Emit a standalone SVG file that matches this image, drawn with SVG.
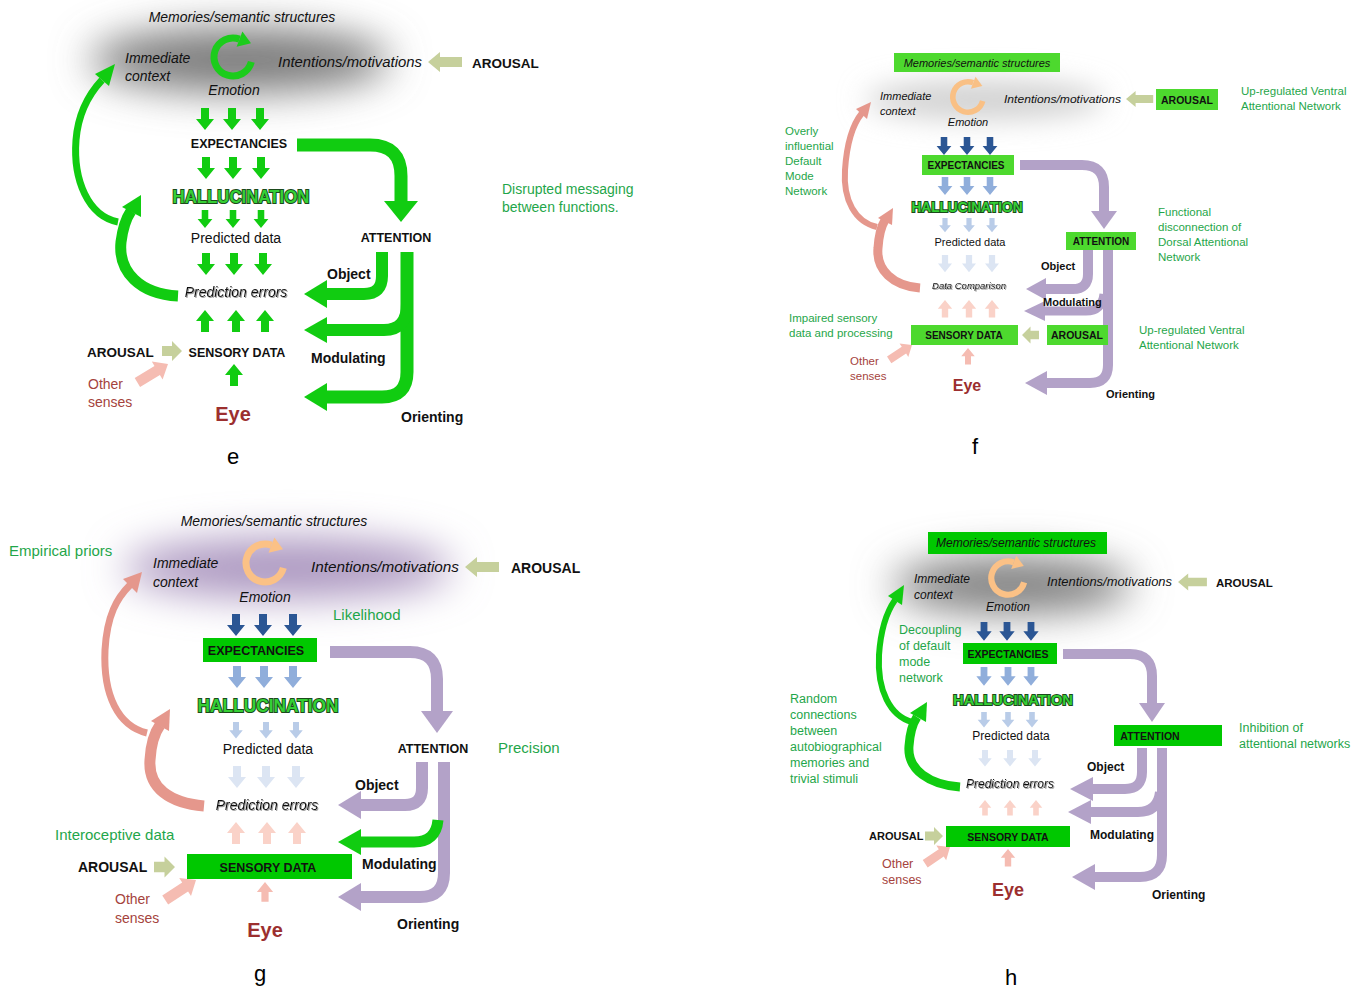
<svg xmlns="http://www.w3.org/2000/svg" width="1365" height="990" viewBox="0 0 1365 990">
<style>
text{font-family:"Liberation Sans",Arial,sans-serif;fill:#111}
.i{font-style:italic}
.b{font-weight:bold}
.gt{fill:#1fa64a}
.br{fill:#a5433d}
.eye{fill:#9c2f2f;font-weight:bold}
.hal{fill:#35d035;stroke:#1b4a1b;stroke-width:2;paint-order:stroke;font-weight:bold}
.lbl{font-size:22px;fill:#000}
.sh{fill:none;stroke-linecap:butt}
.ge{stroke:#11cc11}
.gef{fill:#11cc11}
.pu{stroke:#b3a2c8}
.puf{fill:#b3a2c8}
.sa{stroke:#e5978c}
.saf{fill:#e5978c}
.kh{fill:#c6d09c}
.pk{fill:#f5bcb2}
.db{fill:#2b5694}
.lb{fill:#90aedb}
.lb2{fill:#b9cce8}
.lb3{fill:#dce5f3}
.pk2{fill:#fad2c8}
.boxf{fill:#4dd92e}
.boxg{fill:#00c800}
</style>
<defs>
<path id="dn" d="M-4,0H4V11H9L0,22L-9,11H-4Z"/>
<path id="up" d="M-4,22H4V11H9L0,0L-9,11H-4Z"/>
<path id="ha" d="M-34,-5H-12V-10L0,0L-12,10V5H-34Z"/>
<path id="hs" d="M-20,-5H-10V-10L0,0L-10,10V5H-20Z"/>
<g id="circ">
<path d="M18.35,4.92A19,19 0 1 1 6.5,-17.85" fill="none" stroke="currentColor" stroke-width="7"/>
<polygon points="18,-13.7 9.4,-25.4 3.6,-10.3" fill="currentColor"/>
</g>
<filter id="blur" x="-60%" y="-100%" width="220%" height="300%"><feGaussianBlur stdDeviation="20"/></filter>
<filter id="blur2" x="-60%" y="-100%" width="220%" height="300%"><feGaussianBlur stdDeviation="14"/></filter>
<filter id="shd" x="-10%" y="-30%" width="120%" height="160%"><feDropShadow dx="1" dy="1" stdDeviation="0.6" flood-color="#888" flood-opacity="0.8"/></filter>
</defs>
<rect width="1365" height="990" fill="#fff"/>

<!-- ================= PANEL E ================= -->
<g id="panel-e">
<ellipse cx="240" cy="60" rx="150" ry="32" fill="#7a7a7a" filter="url(#blur)"/>
<g id="connectors-e">
<g class="gef">
<use href="#dn" transform="translate(205,108)"/><use href="#dn" transform="translate(232,108)"/><use href="#dn" transform="translate(260,108)"/>
<use href="#dn" transform="translate(206,157)"/><use href="#dn" transform="translate(233,157)"/><use href="#dn" transform="translate(261,157)"/>
<use href="#dn" transform="translate(205,210) scale(0.82)"/><use href="#dn" transform="translate(233,210) scale(0.82)"/><use href="#dn" transform="translate(261,210) scale(0.82)"/>
<use href="#dn" transform="translate(206,253)"/><use href="#dn" transform="translate(234,253)"/><use href="#dn" transform="translate(263,253)"/>
<use href="#up" transform="translate(205,310)"/><use href="#up" transform="translate(236,310)"/><use href="#up" transform="translate(265,310)"/>
<use href="#up" transform="translate(234,364)"/>
</g>
<use href="#ha" class="kh" transform="translate(428,62) rotate(180)"/>
<use href="#hs" class="kh" transform="translate(182,351)"/>
<use href="#ha" class="pk" transform="translate(168,364) rotate(-31) scale(1.05)"/>
<path class="sh ge" stroke-width="13" d="M297,145H370Q401,145 401,176V202"/>
<polygon class="gef" points="384,201 418,201 401,222"/>
<path class="sh ge" stroke-width="12" d="M382,252V276Q382,294 364,294H325"/>
<polygon class="gef" points="327,280 327,308 304,294"/>
<path class="sh ge" stroke-width="13" d="M407,252V372Q407,397 382,397H325"/>
<polygon class="gef" points="327,383 327,411 304,397"/>
<path class="sh ge" stroke-width="12" d="M407,304Q407,330 384,330H325"/>
<polygon class="gef" points="327,317 327,343 304,330"/>
<path class="sh ge" stroke-width="7" d="M118,222C88,216 73,180 76,140C78,115 88,95 102,80"/>
<polygon class="gef" points="115,64 109,86 95,74"/>
<path class="sh ge" stroke-width="11" d="M178,296C140,294 118,272 121,242C123,226 127,217 131,211"/>
<polygon class="gef" points="141,195 141,217 122,207"/>
</g>
<g id="e-memories"><text class="i" x="242" y="22" font-size="14" text-anchor="middle">Memories/semantic structures</text></g>
<g id="e-immediate"><text class="i" x="125" y="63" font-size="14">Immediate</text><text class="i" x="125" y="81" font-size="14">context</text></g>
<g id="e-emotion"><use href="#circ" color="#1ccc1c" transform="translate(233,57)"/><text class="i" x="234" y="95" font-size="14" text-anchor="middle">Emotion</text></g>
<g id="e-intentions"><text class="i" x="278" y="67" font-size="14" textLength="144" lengthAdjust="spacingAndGlyphs">Intentions/motivations</text></g>
<g id="e-arousal-top"><text class="b" x="472" y="68" font-size="13.5">AROUSAL</text></g>
<g id="e-expectancies"><text class="b" x="239" y="148" font-size="12.5" text-anchor="middle">EXPECTANCIES</text></g>
<g id="e-hallucination"><text class="hal" x="241" y="203" font-size="18" text-anchor="middle" textLength="137" lengthAdjust="spacingAndGlyphs">HALLUCINATION</text></g>
<g id="e-predicted"><text x="236" y="243" font-size="14" text-anchor="middle">Predicted data</text></g>
<g id="e-errors"><text class="i" x="236" y="297" font-size="14" text-anchor="middle" filter="url(#shd)">Prediction errors</text></g>
<g id="e-arousal"><text class="b" x="87" y="357" font-size="13.5">AROUSAL</text></g>
<g id="e-sensory"><text class="b" x="237" y="357" font-size="12.5" text-anchor="middle">SENSORY DATA</text></g>
<g id="e-other"><text class="br" x="88" y="389" font-size="14">Other</text><text class="br" x="88" y="407" font-size="14">senses</text></g>
<g id="e-eye"><text class="eye" x="233" y="421" font-size="20" text-anchor="middle">Eye</text></g>
<g id="e-attention"><text class="b" x="396" y="242" font-size="12.5" text-anchor="middle">ATTENTION</text></g>
<g id="e-object"><text class="b" x="327" y="279" font-size="14">Object</text></g>
<g id="e-modulating"><text class="b" x="311" y="363" font-size="14">Modulating</text></g>
<g id="e-orienting"><text class="b" x="401" y="422" font-size="14">Orienting</text></g>
<g id="e-note"><text class="gt" x="502" y="194" font-size="14">Disrupted messaging</text><text class="gt" x="502" y="212" font-size="14">between functions.</text></g>
<g id="e-label"><text class="lbl" x="233" y="464" text-anchor="middle">e</text></g>
</g>

<!-- ================= PANEL F ================= -->
<g id="panel-f">
<ellipse cx="985" cy="100" rx="120" ry="20" fill="#d2d2d2" filter="url(#blur2)"/>
<g id="connectors-f">
<g class="db"><use href="#dn" transform="translate(944,137) scale(0.82)"/><use href="#dn" transform="translate(967,137) scale(0.82)"/><use href="#dn" transform="translate(990,137) scale(0.82)"/></g>
<g class="lb"><use href="#dn" transform="translate(945,177) scale(0.82)"/><use href="#dn" transform="translate(967,177) scale(0.82)"/><use href="#dn" transform="translate(990,177) scale(0.82)"/></g>
<g class="lb2"><use href="#dn" transform="translate(945,218) scale(0.65)"/><use href="#dn" transform="translate(969,218) scale(0.65)"/><use href="#dn" transform="translate(992,218) scale(0.65)"/></g>
<g class="lb3"><use href="#dn" transform="translate(945,255) scale(0.78)"/><use href="#dn" transform="translate(969,255) scale(0.78)"/><use href="#dn" transform="translate(992,255) scale(0.78)"/></g>
<g class="pk2"><use href="#up" transform="translate(945,300) scale(0.8)"/><use href="#up" transform="translate(969,300) scale(0.8)"/><use href="#up" transform="translate(992,300) scale(0.8)"/></g>
<use href="#up" class="pk" transform="translate(968,348) scale(0.75)"/>
<use href="#ha" class="kh" transform="translate(1126,99) rotate(180) scale(0.8)"/>
<use href="#hs" class="kh" transform="translate(1022,335) rotate(180) scale(0.85)"/>
<use href="#ha" class="pk" transform="translate(912,345) rotate(-33) scale(0.8)"/>
<path class="sh pu" stroke-width="10" d="M1020,165H1082Q1104,165 1104,187V212"/>
<polygon class="puf" points="1091,211 1117,211 1104,229"/>
<path class="sh pu" stroke-width="10" d="M1088,250V274Q1088,289 1073,289H1045"/>
<polygon class="puf" points="1046,278 1046,300 1026,289"/>
<path class="sh pu" stroke-width="10" d="M1108,250V365Q1108,383 1090,383H1046"/>
<polygon class="puf" points="1047,371 1047,395 1025,383"/>
<path class="sh pu" stroke-width="9" d="M1104,294Q1102,311 1086,311H1044"/>
<polygon class="puf" points="1045,301 1045,321 1024,311"/>
<path class="sh sa" stroke-width="6" d="M877,227C855,222 843,200 845,170C847,140 853,124 862,113"/>
<polygon class="saf" points="871,102 867,119 856,109"/>
<path class="sh sa" stroke-width="9" d="M920,288C893,286 876,270 878,248C879,233 882,225 885,220"/>
<polygon class="saf" points="893,208 892,225 878,218"/>
</g>
<g id="f-memories"><rect class="boxf" x="894" y="53" width="166" height="19"/><text class="i" x="977" y="66.5" font-size="11" text-anchor="middle">Memories/semantic structures</text></g>
<g id="f-immediate"><text class="i" x="880" y="100" font-size="11">Immediate</text><text class="i" x="880" y="115" font-size="11">context</text></g>
<g id="f-emotion"><use href="#circ" color="#f9c085" transform="translate(968,97) scale(0.8)"/><text class="i" x="968" y="126" font-size="11" text-anchor="middle">Emotion</text></g>
<g id="f-intentions"><text class="i" x="1004" y="103" font-size="11" textLength="117" lengthAdjust="spacingAndGlyphs">Intentions/motivations</text></g>
<g id="f-arousal-top"><rect class="boxf" x="1156" y="89" width="62" height="21"/><text class="b" x="1187" y="103.5" font-size="10.5" text-anchor="middle">AROUSAL</text></g>
<g id="f-upreg1"><text class="gt" x="1241" y="95" font-size="11.5">Up-regulated Ventral</text><text class="gt" x="1241" y="110" font-size="11.5">Attentional Network</text></g>
<g id="f-overly"><text class="gt" x="785" y="135" font-size="11.5">Overly</text><text class="gt" x="785" y="150" font-size="11.5">influential</text><text class="gt" x="785" y="165" font-size="11.5">Default</text><text class="gt" x="785" y="180" font-size="11.5">Mode</text><text class="gt" x="785" y="195" font-size="11.5">Network</text></g>
<g id="f-expectancies"><rect class="boxf" x="922" y="155" width="92" height="20"/><text class="b" x="966" y="169" font-size="10" text-anchor="middle">EXPECTANCIES</text></g>
<g id="f-hallucination"><text class="hal" x="967" y="212" font-size="14" text-anchor="middle" textLength="111" lengthAdjust="spacingAndGlyphs">HALLUCINATION</text></g>
<g id="f-predicted"><text x="970" y="246" font-size="11" text-anchor="middle">Predicted data</text></g>
<g id="f-comparison"><text class="i" x="969" y="288.5" font-size="9.5" text-anchor="middle" filter="url(#shd)">Data Comparison</text></g>
<g id="f-impaired"><text class="gt" x="789" y="322" font-size="11.5">Impaired sensory</text><text class="gt" x="789" y="337" font-size="11.5">data and processing</text></g>
<g id="f-sensory"><rect class="boxf" x="911" y="325" width="107" height="20"/><text class="b" x="964" y="339" font-size="10" text-anchor="middle">SENSORY DATA</text></g>
<g id="f-arousal"><rect class="boxf" x="1047" y="325" width="61" height="20"/><text class="b" x="1077" y="339" font-size="10.5" text-anchor="middle">AROUSAL</text></g>
<g id="f-other"><text class="br" x="850" y="365" font-size="11.5">Other</text><text class="br" x="850" y="380" font-size="11.5">senses</text></g>
<g id="f-eye"><text class="eye" x="967" y="391" font-size="16" text-anchor="middle">Eye</text></g>
<g id="f-attention"><rect class="boxf" x="1066" y="232" width="70" height="18"/><text class="b" x="1101" y="245" font-size="10" text-anchor="middle">ATTENTION</text></g>
<g id="f-functional"><text class="gt" x="1158" y="216" font-size="11.5">Functional</text><text class="gt" x="1158" y="231" font-size="11.5">disconnection of</text><text class="gt" x="1158" y="246" font-size="11.5">Dorsal Attentional</text><text class="gt" x="1158" y="261" font-size="11.5">Network</text></g>
<g id="f-object"><text class="b" x="1041" y="270" font-size="11">Object</text></g>
<g id="f-modulating"><text class="b" x="1043" y="306" font-size="11">Modulating</text></g>
<g id="f-orienting"><text class="b" x="1106" y="398" font-size="11">Orienting</text></g>
<g id="f-upreg2"><text class="gt" x="1139" y="334" font-size="11.5">Up-regulated Ventral</text><text class="gt" x="1139" y="349" font-size="11.5">Attentional Network</text></g>
<g id="f-label"><text class="lbl" x="975" y="454" text-anchor="middle">f</text></g>
</g>

<!-- ================= PANEL G ================= -->
<g id="panel-g">
<ellipse cx="288" cy="568" rx="165" ry="30" fill="#ab96c0" filter="url(#blur)"/>
<g id="connectors-g">
<g class="db"><use href="#dn" transform="translate(236,614)"/><use href="#dn" transform="translate(263,614)"/><use href="#dn" transform="translate(293,614)"/></g>
<g class="lb"><use href="#dn" transform="translate(237,666)"/><use href="#dn" transform="translate(264,666)"/><use href="#dn" transform="translate(293,666)"/></g>
<g class="lb2"><use href="#dn" transform="translate(236,722) scale(0.75)"/><use href="#dn" transform="translate(266,722) scale(0.75)"/><use href="#dn" transform="translate(296,722) scale(0.75)"/></g>
<g class="lb3"><use href="#dn" transform="translate(237,766)"/><use href="#dn" transform="translate(266,766)"/><use href="#dn" transform="translate(296,766)"/></g>
<g class="pk2"><use href="#up" transform="translate(236,822)"/><use href="#up" transform="translate(267,822)"/><use href="#up" transform="translate(297,822)"/></g>
<use href="#up" class="pk" transform="translate(265,882) scale(0.9)"/>
<use href="#ha" class="kh" transform="translate(465,567) rotate(180)"/>
<use href="#hs" class="kh" transform="translate(175,867) scale(1.05)"/>
<use href="#ha" class="pk" transform="translate(196,880) rotate(-33) scale(1.08)"/>
<path class="sh pu" stroke-width="12" d="M330,652H410Q437,652 437,679V712"/>
<polygon class="puf" points="421,711 453,711 437,733"/>
<path class="sh pu" stroke-width="12" d="M422,762V788Q422,805 405,805H360"/>
<polygon class="puf" points="361,791 361,819 338,805"/>
<path class="sh pu" stroke-width="12" d="M444,762V873Q444,897 420,897H360"/>
<polygon class="puf" points="361,883 361,911 338,897"/>
<path class="sh ge" stroke-width="11" d="M438,820Q436,842 414,842H360"/>
<polygon class="gef" points="361,829 361,855 338,842"/>
<path class="sh sa" stroke-width="7" d="M147,733C118,726 103,695 105,650C107,615 117,598 130,585"/>
<polygon class="saf" points="142,572 137,593 123,579"/>
<path class="sh sa" stroke-width="11" d="M204,806C170,803 148,788 150,760C151,742 155,732 160,725"/>
<polygon class="saf" points="170,709 169,731 151,721"/>
</g>
<g id="g-memories"><text class="i" x="274" y="526" font-size="14" text-anchor="middle">Memories/semantic structures</text></g>
<g id="g-priors"><text class="gt" x="9" y="556" font-size="15">Empirical priors</text></g>
<g id="g-immediate"><text class="i" x="153" y="568" font-size="14">Immediate</text><text class="i" x="153" y="587" font-size="14">context</text></g>
<g id="g-emotion"><use href="#circ" color="#fbc186" transform="translate(265,563)"/><text class="i" x="265" y="602" font-size="14" text-anchor="middle">Emotion</text></g>
<g id="g-intentions"><text class="i" x="311" y="572" font-size="14" textLength="148" lengthAdjust="spacingAndGlyphs">Intentions/motivations</text></g>
<g id="g-arousal-top"><text class="b" x="511" y="573" font-size="14">AROUSAL</text></g>
<g id="g-likelihood"><text class="gt" x="333" y="620" font-size="15">Likelihood</text></g>
<g id="g-expectancies"><rect class="boxg" x="203" y="638" width="114" height="24"/><text class="b" x="256" y="655" font-size="12.5" text-anchor="middle">EXPECTANCIES</text></g>
<g id="g-hallucination"><text class="hal" x="268" y="712" font-size="18" text-anchor="middle" textLength="141" lengthAdjust="spacingAndGlyphs">HALLUCINATION</text></g>
<g id="g-predicted"><text x="268" y="754" font-size="14" text-anchor="middle">Predicted data</text></g>
<g id="g-attention"><text class="b" x="433" y="753" font-size="12.5" text-anchor="middle">ATTENTION</text></g>
<g id="g-precision"><text class="gt" x="498" y="753" font-size="15">Precision</text></g>
<g id="g-object"><text class="b" x="355" y="790" font-size="14">Object</text></g>
<g id="g-errors"><text class="i" x="267" y="810" font-size="14" text-anchor="middle" filter="url(#shd)">Prediction errors</text></g>
<g id="g-interoceptive"><text class="gt" x="55" y="840" font-size="15">Interoceptive data</text></g>
<g id="g-arousal"><text class="b" x="78" y="872" font-size="14">AROUSAL</text></g>
<g id="g-sensory"><rect class="boxg" x="187" y="854" width="165" height="25"/><text class="b" x="268" y="872" font-size="12.5" text-anchor="middle">SENSORY DATA</text></g>
<g id="g-modulating"><text class="b" x="362" y="869" font-size="14">Modulating</text></g>
<g id="g-other"><text class="br" x="115" y="904" font-size="14">Other</text><text class="br" x="115" y="923" font-size="14">senses</text></g>
<g id="g-orienting"><text class="b" x="397" y="929" font-size="14">Orienting</text></g>
<g id="g-eye"><text class="eye" x="265" y="937" font-size="20" text-anchor="middle">Eye</text></g>
<g id="g-label"><text class="lbl" x="260" y="981" text-anchor="middle">g</text></g>
</g>

<!-- ================= PANEL H ================= -->
<g id="panel-h">
<ellipse cx="1012" cy="585" rx="120" ry="28" fill="#7e7e7e" filter="url(#blur)"/>
<g id="connectors-h">
<g class="db"><use href="#dn" transform="translate(984,622) scale(0.85)"/><use href="#dn" transform="translate(1007,622) scale(0.85)"/><use href="#dn" transform="translate(1031,622) scale(0.85)"/></g>
<g class="lb"><use href="#dn" transform="translate(984,667) scale(0.85)"/><use href="#dn" transform="translate(1008,667) scale(0.85)"/><use href="#dn" transform="translate(1031,667) scale(0.85)"/></g>
<g class="lb2"><use href="#dn" transform="translate(984,712) scale(0.7)"/><use href="#dn" transform="translate(1008,712) scale(0.7)"/><use href="#dn" transform="translate(1032,712) scale(0.7)"/></g>
<g class="lb3"><use href="#dn" transform="translate(985,750) scale(0.75)"/><use href="#dn" transform="translate(1010,750) scale(0.75)"/><use href="#dn" transform="translate(1035,750) scale(0.75)"/></g>
<g class="pk2"><use href="#up" transform="translate(985,800) scale(0.7)"/><use href="#up" transform="translate(1010,800) scale(0.7)"/><use href="#up" transform="translate(1036,800) scale(0.7)"/></g>
<use href="#up" class="pk" transform="translate(1008,849) scale(0.8)"/>
<use href="#ha" class="kh" transform="translate(1178,582) rotate(180) scale(0.85)"/>
<use href="#hs" class="kh" transform="translate(943,836) scale(0.9)"/>
<use href="#ha" class="pk" transform="translate(950,847) rotate(-34) scale(0.88)"/>
<path class="sh pu" stroke-width="10" d="M1063,654H1130Q1152,654 1152,676V704"/>
<polygon class="puf" points="1139,703 1165,703 1152,722"/>
<path class="sh pu" stroke-width="10" d="M1142,748V772Q1142,789 1125,789H1092"/>
<polygon class="puf" points="1093,777 1093,801 1070,789"/>
<path class="sh pu" stroke-width="10" d="M1162,748V855Q1162,877 1140,877H1094"/>
<polygon class="puf" points="1095,864 1095,890 1072,877"/>
<path class="sh pu" stroke-width="10" d="M1160,792Q1158,812 1138,812H1090"/>
<polygon class="puf" points="1091,800 1091,824 1068,812"/>
<path class="sh ge" stroke-width="6" d="M912,722C890,716 877,690 879,655C881,625 888,610 895,600"/>
<polygon class="gef" points="904,585 902,605 888,596"/>
<path class="sh ge" stroke-width="9" d="M960,787C930,785 907,770 909,746C910,732 913,723 917,717"/>
<polygon class="gef" points="927,702 926,722 910,713"/>
</g>
<g id="h-memories"><rect class="boxg" x="928" y="532" width="179" height="22"/><text class="i" x="1016" y="547" font-size="12" text-anchor="middle">Memories/semantic structures</text></g>
<g id="h-immediate"><text class="i" x="914" y="583" font-size="12">Immediate</text><text class="i" x="914" y="599" font-size="12">context</text></g>
<g id="h-emotion"><use href="#circ" color="#fbc186" transform="translate(1008,578) scale(0.88)"/><text class="i" x="1008" y="611" font-size="12" text-anchor="middle">Emotion</text></g>
<g id="h-intentions"><text class="i" x="1047" y="586" font-size="12" textLength="125" lengthAdjust="spacingAndGlyphs">Intentions/motivations</text></g>
<g id="h-arousal-top"><text class="b" x="1216" y="587" font-size="11.5">AROUSAL</text></g>
<g id="h-decoupling"><text class="gt" x="899" y="634" font-size="12.5">Decoupling</text><text class="gt" x="899" y="650" font-size="12.5">of default</text><text class="gt" x="899" y="666" font-size="12.5">mode</text><text class="gt" x="899" y="682" font-size="12.5">network</text></g>
<g id="h-expectancies"><rect class="boxg" x="963" y="643" width="94" height="21"/><text class="b" x="1008" y="657.5" font-size="10.5" text-anchor="middle">EXPECTANCIES</text></g>
<g id="h-hallucination"><text class="hal" x="1013" y="705" font-size="15" text-anchor="middle" textLength="120" lengthAdjust="spacingAndGlyphs">HALLUCINATION</text></g>
<g id="h-random"><text class="gt" x="790" y="703" font-size="12.5">Random</text><text class="gt" x="790" y="719" font-size="12.5">connections</text><text class="gt" x="790" y="735" font-size="12.5">between</text><text class="gt" x="790" y="751" font-size="12.5">autobiographical</text><text class="gt" x="790" y="767" font-size="12.5">memories and</text><text class="gt" x="790" y="783" font-size="12.5">trivial stimuli</text></g>
<g id="h-predicted"><text x="1011" y="740" font-size="12" text-anchor="middle">Predicted data</text></g>
<g id="h-attention"><rect class="boxg" x="1114" y="725" width="108" height="21"/><text class="b" x="1150" y="739.5" font-size="10.5" text-anchor="middle">ATTENTION</text></g>
<g id="h-inhibition"><text class="gt" x="1239" y="732" font-size="12.5">Inhibition of</text><text class="gt" x="1239" y="748" font-size="12.5">attentional networks</text></g>
<g id="h-object"><text class="b" x="1087" y="771" font-size="12">Object</text></g>
<g id="h-errors"><text class="i" x="1010" y="788" font-size="12" text-anchor="middle" filter="url(#shd)">Prediction errors</text></g>
<g id="h-arousal"><text class="b" x="869" y="840" font-size="11">AROUSAL</text></g>
<g id="h-sensory"><rect class="boxg" x="946" y="826" width="124" height="21"/><text class="b" x="1008" y="840.5" font-size="10.5" text-anchor="middle">SENSORY DATA</text></g>
<g id="h-modulating"><text class="b" x="1090" y="839" font-size="12">Modulating</text></g>
<g id="h-other"><text class="br" x="882" y="868" font-size="12.5">Other</text><text class="br" x="882" y="884" font-size="12.5">senses</text></g>
<g id="h-eye"><text class="eye" x="1008" y="896" font-size="18" text-anchor="middle">Eye</text></g>
<g id="h-orienting"><text class="b" x="1152" y="899" font-size="12">Orienting</text></g>
<g id="h-label"><text class="lbl" x="1011" y="985" text-anchor="middle">h</text></g>
</g>
</svg>
